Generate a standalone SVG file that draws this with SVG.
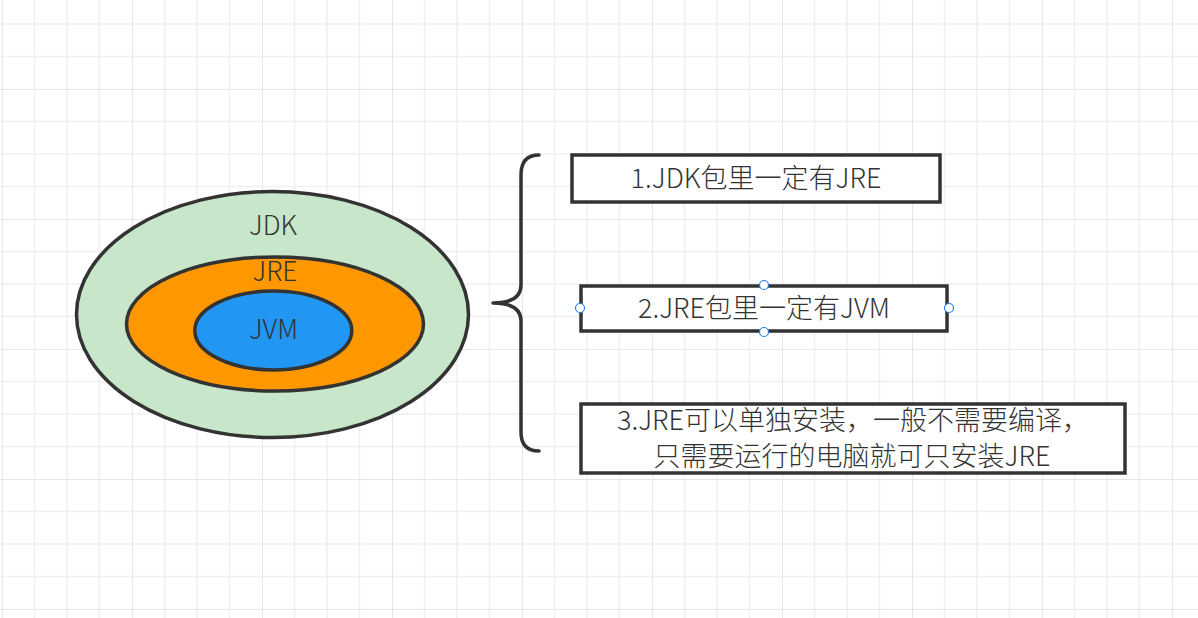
<svg xmlns="http://www.w3.org/2000/svg" width="1198" height="618" viewBox="0 0 1198 618">
  <style>
    .lbl { font-family: "Noto Sans CJK SC", "Noto Sans", "Liberation Sans", sans-serif; fill: #333333; text-anchor: middle; font-weight: 300; }
    .big { font-size: 26.5px; }
    .box { fill: #ffffff; stroke: #333333; stroke-width: 3.5; }
    .ell { stroke: #333333; stroke-width: 3.5; }
    .txt { font-size: 27px; }
    .handle { fill: #ffffff; stroke: #2b7de9; stroke-width: 1.2; }
    .brace { fill: none; stroke: #333333; stroke-width: 3.5; stroke-linecap: round; stroke-linejoin: round; }
  </style>
  <defs>
    <pattern id="grid" patternUnits="userSpaceOnUse" x="2" y="89" width="130" height="130">
      <path d="M32.5,0V130M65,0V130M97.5,0V130M0,32.5H130M0,65H130M0,97.5H130" stroke="#f0f0f0" stroke-width="1.5" fill="none"/>
      <path d="M0,0V130M0,0H130" stroke="#e6e6e6" stroke-width="2" fill="none"/>
    </pattern>
  </defs>
  <rect width="1198" height="618" fill="#ffffff"/>
  <rect width="1198" height="618" fill="url(#grid)"/>

  <g id="jdk">
    <ellipse class="ell" cx="272.5" cy="314.5" rx="196" ry="123" fill="#c8e6c9"/>
    <text class="lbl big" x="273" y="235">JDK</text>
  </g>
  <g id="jre">
    <ellipse class="ell" cx="275" cy="324" rx="148.5" ry="67" fill="#ff9800"/>
    <text class="lbl big" x="275" y="281">JRE</text>
  </g>
  <g id="jvm">
    <ellipse class="ell" cx="273.3" cy="330.5" rx="78.5" ry="39.5" fill="#2196f3"/>
    <text class="lbl big" x="273.5" y="339">JVM</text>
  </g>

  <g id="connectors">
    <path class="brace" d="M539,155 Q521,155 521,175 L521,285 Q521,303 493,303 Q521,303 521,321 L521,432 Q521,451 539,451"/>
  </g>

  <g id="note1">
    <rect class="box" x="572" y="155" width="368" height="47"/>
    <text class="lbl txt" x="756" y="188">1.JDK包里一定有JRE</text>
  </g>
  <g id="note2">
    <rect class="box" x="581" y="286" width="366" height="45"/>
    <text class="lbl txt" x="764" y="318">2.JRE包里一定有JVM</text>
    <circle class="handle" cx="764" cy="285" r="4.5"/>
    <circle class="handle" cx="764" cy="332" r="4.5"/>
    <circle class="handle" cx="580" cy="308" r="4.5"/>
    <circle class="handle" cx="949" cy="308" r="4.5"/>
  </g>
  <g id="note3">
    <rect class="box" x="581" y="404" width="544" height="69"/>
    <text class="lbl txt" x="853" y="429.5">3.JRE可以单独安装，一般不需要编译，</text>
    <text class="lbl txt" x="852" y="466">只需要运行的电脑就可只安装JRE</text>
  </g>
</svg>
